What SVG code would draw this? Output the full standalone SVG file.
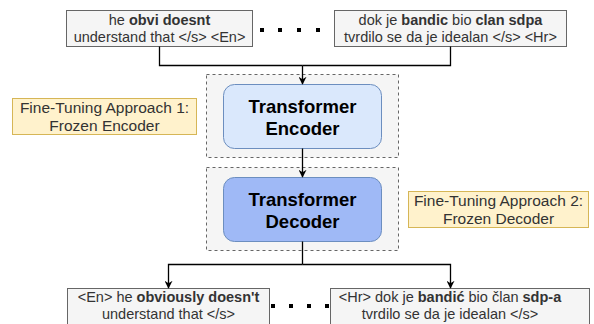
<svg xmlns="http://www.w3.org/2000/svg" width="594" height="324" viewBox="0 0 594 324">
<defs>
<marker id="arr" viewBox="0 0 10 10" refX="9" refY="5" markerWidth="8" markerHeight="8" markerUnits="userSpaceOnUse" orient="auto">
<path d="M0,0 L10,5 L0,10 L3,5 Z" fill="#000"/>
</marker>
</defs>
<style>
.seq{fill:#f5f5f5;stroke:#666666;stroke-width:1}
.t{font-family:"Liberation Sans",Arial,sans-serif;font-size:14.5px;fill:#333333;text-anchor:middle}
.b{font-weight:bold}
.cont{fill:#f5f5f5;stroke:#666666;stroke-width:1;stroke-dasharray:3 3}
.tb{font-family:"Liberation Sans",Arial,sans-serif;font-size:18.5px;font-weight:bold;fill:#000;text-anchor:middle}
.note{fill:#fff2cc;stroke:#d6b656;stroke-width:1}
.nt{font-family:"Liberation Sans",Arial,sans-serif;font-size:15.5px;fill:#333333;text-anchor:middle}
.c{fill:none;stroke:#000;stroke-width:1.3}
.dot{fill:#000}
</style>
<g id="input-en">
<rect class="seq" x="66.5" y="10.5" width="186" height="36"/>
<text class="t" x="159.5" y="25">he <tspan class="b">obvi doesnt</tspan></text>
<text class="t" x="159.5" y="42">understand that &lt;/s&gt; &lt;En&gt;</text>
</g>
<g id="input-dots">
<rect class="dot" x="260" y="28" width="4" height="4"/>
<rect class="dot" x="278" y="28" width="4" height="4"/>
<rect class="dot" x="297" y="28" width="4" height="4"/>
<rect class="dot" x="316" y="28" width="4" height="4"/>
</g>
<g id="input-hr">
<rect class="seq" x="334.5" y="10.5" width="232" height="36"/>
<text class="t" x="450.5" y="25">dok je <tspan class="b">bandic</tspan> bio <tspan class="b">clan sdpa</tspan></text>
<text class="t" x="450.5" y="42">tvrdilo se da je idealan &lt;/s&gt; &lt;Hr&gt;</text>
</g>
<g id="encoder-group">
<rect class="cont" x="206.5" y="74.5" width="192" height="83"/>
</g>
<g id="encoder">
<rect x="223.5" y="84.5" width="158" height="64" rx="11" fill="#dae8fc" stroke="#6c8ebf" stroke-width="1"/>
<text class="tb" x="302.5" y="113">Transformer</text>
<text class="tb" x="302.5" y="135">Encoder</text>
</g>
<g id="note-1">
<rect class="note" x="12.5" y="98.5" width="184" height="36"/>
<text class="nt" x="104.5" y="113">Fine-Tuning Approach 1:</text>
<text class="nt" x="104.5" y="131">Frozen Encoder</text>
</g>
<g id="decoder-group">
<rect class="cont" x="206.5" y="167.5" width="192" height="83"/>
</g>
<g id="decoder">
<rect x="223.5" y="177.5" width="158" height="64" rx="11" fill="#9fb9f6" stroke="#6c8ebf" stroke-width="1"/>
<text class="tb" x="302.5" y="206">Transformer</text>
<text class="tb" x="302.5" y="228">Decoder</text>
</g>
<g id="note-2">
<rect class="note" x="408.5" y="191.5" width="180" height="36"/>
<text class="nt" x="498.5" y="206">Fine-Tuning Approach 2:</text>
<text class="nt" x="498.5" y="224">Frozen Decoder</text>
</g>
<g id="output-en">
<rect class="seq" x="67.5" y="288.5" width="202" height="40"/>
<text class="t" x="168.5" y="302">&lt;En&gt; he <tspan class="b">obviously doesn't</tspan></text>
<text class="t" x="168.5" y="319">understand that &lt;/s&gt;</text>
</g>
<g id="output-dots">
<rect class="dot" x="271" y="304" width="4" height="4"/>
<rect class="dot" x="289" y="304" width="4" height="4"/>
<rect class="dot" x="307" y="304" width="4" height="4"/>
<rect class="dot" x="325" y="304" width="4" height="4"/>
</g>
<g id="output-hr">
<rect class="seq" x="330.5" y="288.5" width="259" height="40"/>
<text class="t" x="450" y="302">&lt;Hr&gt; dok je <tspan class="b">bandić</tspan> bio član <tspan class="b">sdp-a</tspan></text>
<text class="t" x="450" y="319">tvrdilo se da je idealan &lt;/s&gt;</text>
</g>
<g id="connectors">
<path class="c" d="M159.5,46.5 V65.5 H302.5"/>
<path class="c" d="M450.5,46.5 V65.5 H302.5"/>
<path class="c" d="M302.5,65.5 V84" marker-end="url(#arr)"/>
<path class="c" d="M302.5,148.5 V177" marker-end="url(#arr)"/>
<path class="c" d="M302.5,241.5 V264.5"/>
<path class="c" d="M302.5,264.5 H168.5 V288" marker-end="url(#arr)"/>
<path class="c" d="M302.5,264.5 H450.5 V288" marker-end="url(#arr)"/>
</g>
</svg>
